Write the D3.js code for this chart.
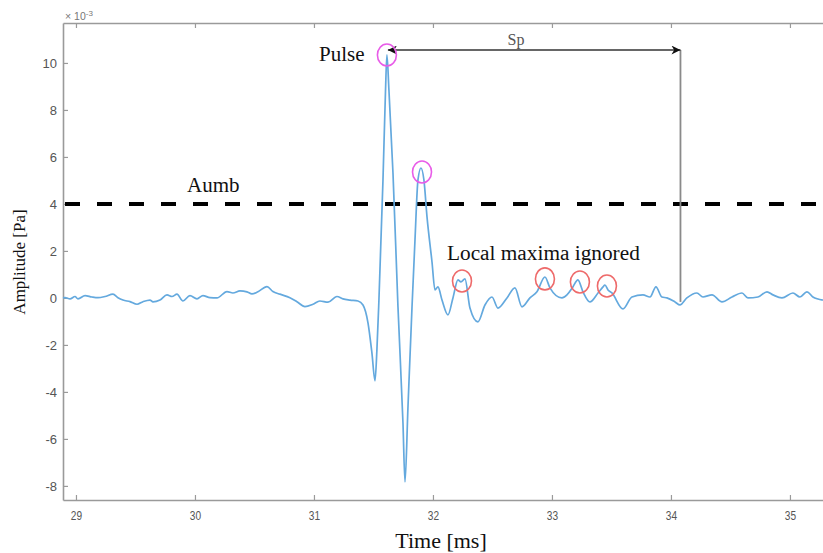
<!DOCTYPE html>
<html>
<head>
<meta charset="utf-8">
<script src="https://cdn.jsdelivr.net/npm/d3@7"></script>
<style>
  html, body { margin: 0; padding: 0; background: #fff; }
  svg { display: block; }
</style>
</head>
<body>
<svg id="chart" width="823" height="553"></svg>
<script>
// ---- data (time in ms, amplitude in units of 1e-3 Pa) ----
const timeMs = [28.891,28.908,28.950,28.992,29.017,29.076,29.134,29.185,29.244,29.311,29.353,29.395,29.454,29.513,29.563,29.622,29.647,29.706,29.765,29.807,29.849,29.899,29.958,30.017,30.067,30.126,30.185,30.269,30.319,30.378,30.437,30.479,30.529,30.605,30.655,30.714,30.798,30.857,30.924,30.992,31.050,31.118,31.193,31.244,31.303,31.370,31.412,31.454,31.487,31.513,31.529,31.546,31.580,31.601,31.613,31.630,31.664,31.706,31.748,31.765,31.790,31.824,31.849,31.874,31.899,31.924,31.950,31.992,32.017,32.042,32.076,32.126,32.168,32.210,32.235,32.269,32.311,32.378,32.437,32.496,32.546,32.622,32.689,32.748,32.815,32.874,32.941,32.983,33.084,33.126,33.176,33.218,33.261,33.319,33.387,33.429,33.445,33.471,33.504,33.597,33.672,33.765,33.824,33.874,33.924,33.966,34.034,34.076,34.134,34.218,34.269,34.345,34.429,34.513,34.597,34.647,34.731,34.807,34.857,34.933,35.025,35.084,35.143,35.193,35.277];
const amplitude = [0,0.01,-0.04,0.06,-0.04,0.10,0.04,0.01,0.06,0.16,0.01,-0.09,-0.16,-0.27,-0.16,-0.09,-0.17,-0.09,0.13,0.06,0.16,-0.13,0.10,-0.04,0.10,0.01,0,0.27,0.21,0.30,0.26,0.17,0.26,0.48,0.27,0.16,0.01,-0.16,-0.37,-0.27,-0.13,-0.18,0.06,-0.04,-0.09,-0.13,-0.30,-1.06,-2.34,-3.53,-2.21,-0.09,5.02,8.77,10.34,8.85,5.32,-0.38,-5.32,-7.83,-4.64,-0.38,2.47,5.02,5.53,5.02,3.45,1.53,0.34,0.47,-0.09,-0.72,0,0.77,0.68,0.81,-0.43,-1.02,-0.30,0.04,-0.43,0,0.43,-0.38,0,0.26,0.89,0.43,0,0.13,0.47,0.77,0.26,-0.17,0.21,0.47,0.55,0.34,0.21,-0.47,0.04,0.13,0.04,0.47,0.04,0,-0.17,-0.30,0,0.21,0.04,0.13,-0.17,0.04,0.21,0,0.04,0.26,0.13,0,0.21,0.04,0.26,0.04,-0.09];

const xTicks = [29, 30, 31, 32, 33, 34, 35];
const yTicks = [-8, -6, -4, -2, 0, 2, 4, 6, 8, 10];

const thresholdAumb = 4;
// detected pulse peaks (magenta) and ignored local maxima (red)
const pulseT = [31.613, 31.908];
const pulseV = [10.34, 5.36];
const ignoredT = [32.244, 32.941, 33.235, 33.462];
const ignoredV = [0.72, 0.81, 0.68, 0.51];
// Sp arrow: from pulse to end of window
const spStartT = 31.613, spEndT = 34.08, spLevel = 10.55, spBottom = -0.17;

// ---- layout ----
const svg = d3.select("#chart");
const mLeft = 63, mTop = 23, mBottom = 500, mRight = 826;

const x = d3.scaleLinear().domain([28.891, 35.303]).range([mLeft, mRight]);
const y = d3.scaleLinear().domain([-8.6, 11.7]).range([mBottom, mTop]);

const axisColor = "#9a9a9a";
const tickText = "#555";
const plainFmt = d => String(d);

// axes
const gx = svg.append("g").attr("transform", `translate(0,${mBottom})`)
  .call(d3.axisBottom(x).tickValues(xTicks).tickSizeInner(-5).tickSizeOuter(0).tickPadding(11).tickFormat(plainFmt));
const gxTop = svg.append("g").attr("transform", `translate(0,${mTop})`)
  .call(d3.axisTop(x).tickValues(xTicks).tickSizeInner(-5).tickSizeOuter(0).tickFormat(""));
const gy = svg.append("g").attr("transform", `translate(${mLeft},0)`)
  .call(d3.axisLeft(y).tickValues(yTicks).tickSizeInner(-5).tickSizeOuter(0).tickPadding(6).tickFormat(plainFmt));

[gx, gxTop, gy].forEach(g => {
  g.select(".domain").attr("stroke", axisColor).attr("stroke-width", 1.6);
  g.selectAll(".tick line").attr("stroke", axisColor).attr("stroke-width", 1.2);
  g.selectAll(".tick text").attr("fill", tickText)
    .style("font-family", "'Liberation Sans', Arial, sans-serif").style("font-size", "13px");
});
gx.selectAll(".tick text").attr("transform", "scale(0.78,1)");

// exponent label
const expo = svg.append("text").attr("x", mLeft + 2).attr("y", 20)
  .attr("fill", "#777").style("font-family", "'Liberation Sans', Arial, sans-serif").style("font-size", "10.5px");
expo.append("tspan").text("\u00d7 10");
expo.append("tspan").attr("dy", -4).style("font-size", "8px").text("-3");

// threshold dashed line
svg.append("line")
  .attr("x1", mLeft + 2).attr("x2", mRight)
  .attr("y1", y(thresholdAumb)).attr("y2", y(thresholdAumb))
  .attr("stroke", "#000").attr("stroke-width", 4).attr("stroke-dasharray", "15,17");

// signal
const line = d3.line().x((d, i) => x(timeMs[i])).y(d => y(d)).curve(d3.curveMonotoneX);
svg.append("path").datum(amplitude)
  .attr("fill", "none").attr("stroke", "#64a9de").attr("stroke-width", 1.7)
  .attr("stroke-linejoin", "round").attr("d", line);

// Sp arrow
const defs = svg.append("defs");
defs.append("marker").attr("id", "arr").attr("viewBox", "0 0 10 10")
  .attr("refX", 10).attr("refY", 5).attr("markerWidth", 15).attr("markerHeight", 9)
  .attr("markerUnits", "userSpaceOnUse").attr("orient", "auto-start-reverse")
  .append("path").attr("d", "M0,0 L10,5 L0,10 L3,5 Z").attr("fill", "#111");

svg.append("line")
  .attr("x1", x(spEndT)).attr("x2", x(spEndT))
  .attr("y1", y(spLevel)).attr("y2", y(spBottom))
  .attr("stroke", "#8a8a8a").attr("stroke-width", 1.8);
svg.append("line")
  .attr("x1", x(spStartT) + 1).attr("x2", x(spEndT))
  .attr("y1", y(spLevel)).attr("y2", y(spLevel))
  .attr("stroke", "#333").attr("stroke-width", 1.3)
  .attr("marker-start", "url(#arr)").attr("marker-end", "url(#arr)");

// circles
svg.selectAll("ellipse.pulse").data(pulseT).enter().append("ellipse")
  .attr("class", "pulse")
  .attr("cx", (d) => x(d)).attr("cy", (d, i) => y(pulseV[i]))
  .attr("rx", 9.5).attr("ry", 11)
  .attr("fill", "none").attr("stroke", "#e85ce8").attr("stroke-width", 1.6);
svg.selectAll("ellipse.ign").data(ignoredT).enter().append("ellipse")
  .attr("class", "ign")
  .attr("cx", (d) => x(d)).attr("cy", (d, i) => y(ignoredV[i]))
  .attr("rx", 9.5).attr("ry", 11)
  .attr("fill", "none").attr("stroke", "#ee6a6a").attr("stroke-width", 1.6);

// annotation texts
const serif = "'Liberation Serif', 'Times New Roman', serif";
function label(tx, ty, txt, size, color, anchor) {
  return svg.append("text").attr("x", tx).attr("y", ty).attr("text-anchor", anchor || "start")
    .attr("fill", color || "#111").style("font-family", serif).style("font-size", size + "px").text(txt);
}
label(319, 61, "Pulse", 21);
label(187, 192, "Aumb", 21);
label(447, 260, "Local maxima ignored", 21.3);
label(516, 45, "Sp", 16, "#555", "middle");
label(441, 548, "Time [ms]", 22, "#111", "middle");
svg.append("text").attr("transform", "translate(25,262) rotate(-90)")
  .attr("text-anchor", "middle").attr("fill", "#111")
  .style("font-family", serif).style("font-size", "17px").text("Amplitude [Pa]");
</script>
</body>
</html>
